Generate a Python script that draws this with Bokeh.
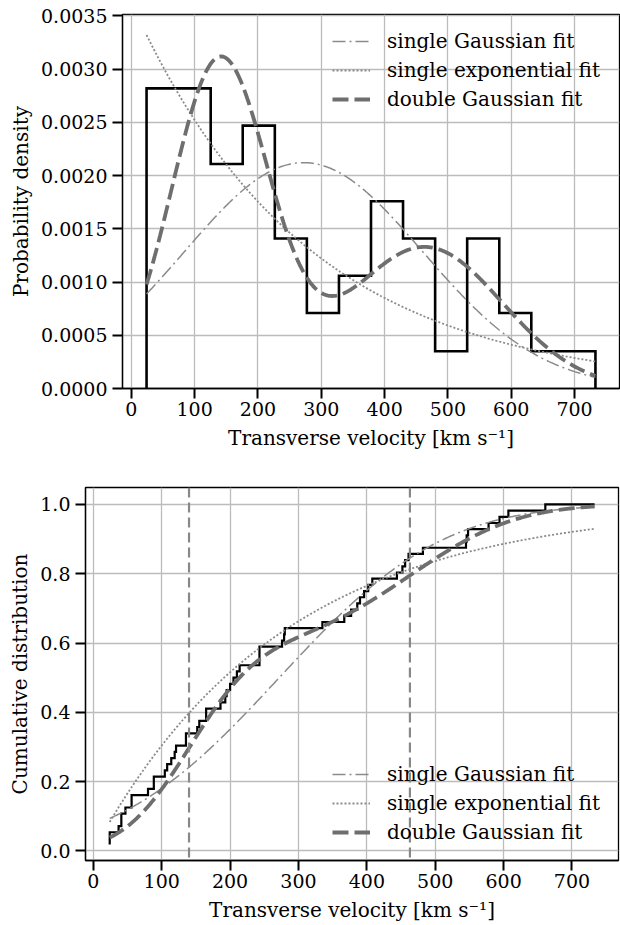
import math
import numpy as np
from bokeh.plotting import figure
from bokeh.models import (FixedTicker, NumeralTickFormatter, Legend, LegendItem,
                          Span, Range1d)
from bokeh.embed import file_html
from bokeh.resources import INLINE

# ---------------- data ----------------
# sorted transverse velocities [km/s] (56 objects)
velocities = [24, 24, 37, 41, 41, 47, 56, 56,
              80, 88.5, 88.5, 104.6, 108, 114, 119, 121,
              135.5, 135.5, 152, 155, 165, 165,
              186, 193, 195, 200, 205, 210, 214,
              243, 243, 243, 276,
              279, 280,
              335, 367, 377,
              386, 390, 396, 402, 408,
              444, 452, 456, 461,
              482,
              545, 546, 548, 578,
              594, 607,
              661,
              733]

bin_edges = [24, 74.6, 125.3, 175.9, 226.6, 277.2, 327.9, 378.5, 429.1,
             479.8, 530.4, 581.1, 631.7, 682.4, 733]
hist_density = [0.00282, 0.00282, 0.00211, 0.00247, 0.00141, 0.00071, 0.00106,
                0.00176, 0.00141, 0.00035, 0.00141, 0.00071, 0.00035, 0.00035]

# fit parameters
gauss_mu, gauss_sigma = 272.0, 188.0
exp_scale = 276.0
dg_weights = [0.59, 0.41]
dg_mu = [140.0, 463.0]
dg_sigma = [76.5, 123.0]

x_ticks = [0, 100, 200, 300, 400, 500, 600, 700]
pdf_ticks = [0.0, 0.0005, 0.0010, 0.0015, 0.0020, 0.0025, 0.0030, 0.0035]
cdf_ticks = [0.0, 0.2, 0.4, 0.6, 0.8, 1.0]

labels = ["single Gaussian fit", "single exponential fit", "double Gaussian fit"]
xlabel = "Transverse velocity [km s\u207b\u00b9]"

# ---------------- model curves ----------------
xs = np.linspace(min(velocities), max(velocities), 500)
erf = np.vectorize(math.erf)


def npdf(x, mu, s):
    return np.exp(-0.5 * ((x - mu) / s) ** 2) / (s * math.sqrt(2 * math.pi))


def ncdf(x, mu, s):
    return 0.5 * (1 + erf((x - mu) / (s * math.sqrt(2))))


g_pdf = npdf(xs, gauss_mu, gauss_sigma)
e_pdf = np.exp(-xs / exp_scale) / exp_scale
d_pdf = sum(w * npdf(xs, m, s) for w, m, s in zip(dg_weights, dg_mu, dg_sigma))
g_cdf = ncdf(xs, gauss_mu, gauss_sigma)
e_cdf = 1 - np.exp(-xs / exp_scale)
d_cdf = sum(w * ncdf(xs, m, s) for w, m, s in zip(dg_weights, dg_mu, dg_sigma))

# histogram outline path
hx, hy = [bin_edges[0]], [0.0]
for i, h in enumerate(hist_density):
    hx += [bin_edges[i], bin_edges[i + 1]]
    hy += [h, h]
hx.append(bin_edges[-1])
hy.append(0.0)

# ECDF ('pre' steps)
N = len(velocities)
cy = [(i + 1) / N for i in range(N)]
ex, ey = [velocities[0]], [cy[0]]
for i in range(N - 1):
    ex += [velocities[i], velocities[i + 1]]
    ey += [cy[i + 1], cy[i + 1]]

FONT = "DejaVu Serif"
FS_TICK = "19px"
FS_LAB = "20px"
FS_LEG = "20px"
GRID = "#bcbcbc"
C_G = "#8a8a8a"
C_E = "#8a8a8a"
C_D = "#6e6e6e"


def style(p, yticks, yfmt, ylabel):
    p.outline_line_color = "black"
    p.outline_line_width = 1.3
    p.xaxis.ticker = FixedTicker(ticks=x_ticks)
    p.yaxis.ticker = FixedTicker(ticks=yticks)
    p.xgrid.ticker = FixedTicker(ticks=x_ticks)
    p.ygrid.ticker = FixedTicker(ticks=yticks)
    p.yaxis.formatter = NumeralTickFormatter(format=yfmt)
    for g in (p.xgrid, p.ygrid):
        g.grid_line_color = GRID
        g.grid_line_width = 1.3
    for ax in (p.xaxis, p.yaxis):
        ax.axis_line_width = 1.3
        ax.major_tick_line_width = 2
        ax.major_tick_out = 10
        ax.major_tick_in = 0
        ax.minor_tick_line_color = None
        ax.major_label_text_font = FONT
        ax.major_label_text_font_size = FS_TICK
        ax.major_label_text_color = "black"
        ax.axis_label_text_font = FONT
        ax.axis_label_text_font_size = FS_LAB
        ax.axis_label_text_font_style = "normal"
        ax.axis_label_text_color = "black"
    p.xaxis.axis_label = xlabel
    p.yaxis.axis_label = ylabel
    p.xaxis.major_label_standoff = 3
    p.yaxis.major_label_standoff = 5
    p.xaxis.axis_label_standoff = 7
    p.yaxis.axis_label_standoff = 5


def add_legend(p, rends, loc):
    leg = Legend(items=[LegendItem(label=l, renderers=[r]) for l, r in zip(labels, rends)],
                 location=loc)
    leg.glyph_width = 38
    leg.glyph_height = 20
    leg.label_height = 20
    leg.spacing = 5
    leg.padding = 0
    leg.margin = 0
    leg.label_standoff = 17
    leg.border_line_alpha = 0
    leg.background_fill_alpha = 0
    leg.label_text_font = FONT
    leg.label_text_font_size = FS_LEG
    leg.label_text_color = "black"
    p.add_layout(leg)


# ---------------- top: probability density ----------------
p1 = figure(width=620, height=460, output_backend="svg", toolbar_location=None,
            x_range=Range1d(-14, 771), y_range=Range1d(0, 0.003514),
            min_border_left=122, min_border_right=1, min_border_top=14,
            min_border_bottom=72)
style(p1, pdf_ticks, "0.0000", "Probability density")
p1.line(hx, hy, line_color="black", line_width=2.6, line_join="miter")
r1 = p1.line(xs, g_pdf, line_color=C_G, line_width=1.5, line_dash="13 4 2 4")
r2 = p1.line(xs, e_pdf, line_color=C_E, line_width=1.8, line_dash="2 2")
r3 = p1.line(xs, d_pdf, line_color=C_D, line_width=3.8, line_dash="16 6")
add_legend(p1, [r1, r2, r3], (210, 277))

# ---------------- bottom: cumulative distribution ----------------
p2 = figure(width=620, height=465, output_backend="svg", toolbar_location=None,
            x_range=Range1d(-11.4, 768), y_range=Range1d(-0.028, 1.049),
            min_border_left=85, min_border_right=2, min_border_top=27,
            min_border_bottom=65)
style(p2, cdf_ticks, "0.0", "Cumulative distribution")
for m in dg_mu:
    p2.add_layout(Span(location=m, dimension="height", line_color="#888888",
                       line_width=2.2, line_dash="10 5"))
p2.line(ex, ey, line_color="black", line_width=2.2, line_join="miter")
q1 = p2.line(xs, g_cdf, line_color=C_G, line_width=1.5, line_dash="13 4 2 4")
q2 = p2.line(xs, e_cdf, line_color=C_E, line_width=1.8, line_dash="2 2")
q3 = p2.line(xs, d_cdf, line_color=C_D, line_width=3.8, line_dash="16 6")
add_legend(p2, [q1, q2, q3], (247, 16))

open("out.html", "w").write(file_html([p1, p2], INLINE))
